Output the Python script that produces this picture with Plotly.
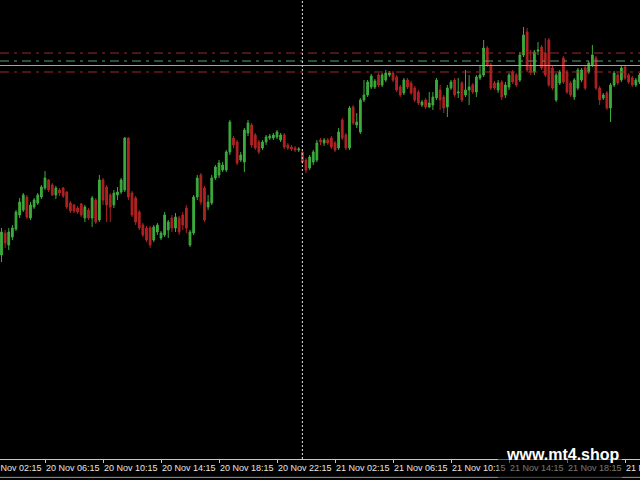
import pandas as pd
import plotly.graph_objects as go

# ---- data (15-minute bars, prices in points) ----
start_time = "2023-11-20 03:15"

open_ = [745, 767, 755, 763, 771, 785, 790, 803, 782, 793,
         797, 803, 812, 820, 815, 805, 810, 812, 808, 797,
         795, 792, 796, 782, 790, 782, 800, 780, 820, 813,
         805, 795, 805, 808, 810, 862, 807, 802, 788, 775,
         772, 772, 760, 768, 762, 765, 770, 782, 772, 782,
         785, 792, 755, 767, 803, 825, 812, 793, 797, 822,
         825, 830, 830, 848, 862, 858, 840, 838, 867, 875,
         865, 858, 852, 858, 862, 862, 863, 860, 865, 855,
         853, 852, 850, 848, 840, 832, 838, 840, 860, 857,
         860, 862, 857, 852, 880, 865, 852, 893, 875, 868,
         900, 905, 913, 913, 925, 915, 920, 925, 927, 923,
         913, 907, 920, 917, 912, 908, 895, 900, 893, 895,
         902, 910, 903, 893, 912, 920, 907, 917, 905, 910,
         915, 908, 922, 925, 952, 935, 917, 910, 918, 905,
         913, 928, 925, 920, 945, 968, 935, 928, 949, 953,
         947, 960, 932, 900, 917, 942, 928, 917, 903, 912,
         920, 932, 928, 935, 942, 912, 902, 907, 892, 915,
         925, 920, 933, 925, 922, 915, 918]

high = [772, 770, 772, 775, 790, 802, 807, 805, 798, 802,
        807, 815, 829, 821, 817, 814, 812, 813, 809, 799,
        796, 794, 797, 795, 792, 804, 802, 825, 822, 815,
        807, 810, 813, 822, 863, 863, 809, 804, 790, 777,
        774, 774, 775, 777, 769, 788, 780, 785, 787, 784,
        788, 795, 770, 805, 825, 827, 814, 805, 825, 835,
        840, 838, 850, 880, 864, 860, 848, 872, 880, 877,
        867, 860, 860, 865, 866, 867, 870, 867, 867, 857,
        855, 854, 853, 850, 842, 845, 850, 860, 862, 862,
        862, 864, 859, 872, 882, 867, 894, 895, 887, 902,
        920, 920, 926, 921, 927, 927, 930, 929, 929, 925,
        915, 922, 922, 919, 914, 910, 900, 902, 908, 908,
        922, 915, 905, 915, 920, 922, 922, 919, 930, 925,
        917, 925, 935, 960, 954, 937, 919, 920, 920, 918,
        927, 930, 927, 948, 973, 972, 950, 950, 958, 955,
        962, 962, 934, 927, 930, 944, 930, 919, 922, 932,
        932, 934, 939, 955, 944, 914, 907, 909, 917, 929,
        927, 934, 935, 927, 924, 922, 927]

low = [738, 752, 750, 760, 769, 782, 788, 781, 780, 791,
       795, 801, 810, 808, 804, 801, 804, 802, 791, 787,
       787, 786, 783, 778, 780, 773, 776, 778, 795, 778,
       778, 792, 800, 806, 808, 800, 783, 775, 770, 763,
       758, 752, 758, 765, 760, 763, 762, 768, 768, 765,
       770, 767, 753, 765, 800, 795, 778, 790, 795, 820,
       822, 828, 828, 845, 852, 835, 838, 828, 864, 852,
       850, 846, 850, 855, 860, 860, 861, 858, 851, 850,
       849, 848, 848, 836, 827, 830, 835, 838, 855, 854,
       855, 851, 848, 850, 860, 850, 850, 875, 872, 866,
       898, 903, 911, 911, 913, 913, 918, 923, 918, 908,
       903, 905, 911, 905, 898, 895, 893, 891, 892, 890,
       900, 890, 887, 883, 910, 903, 902, 898, 903, 895,
       906, 903, 920, 923, 933, 910, 910, 907, 900, 902,
       910, 916, 913, 918, 943, 928, 925, 925, 945, 930,
       923, 913, 910, 898, 915, 916, 906, 903, 900, 910,
       918, 910, 926, 933, 910, 895, 900, 890, 878, 913,
       915, 918, 920, 916, 913, 913, 916]

close = [768, 757, 768, 772, 788, 798, 805, 783, 795, 800,
         805, 813, 822, 810, 805, 812, 807, 804, 793, 789,
         789, 788, 785, 793, 782, 802, 778, 820, 800, 795,
         793, 807, 808, 820, 862, 803, 785, 778, 772, 765,
         760, 755, 773, 775, 767, 785, 778, 772, 783, 768,
         775, 772, 768, 803, 822, 798, 780, 798, 822, 833,
         837, 835, 848, 878, 855, 837, 845, 870, 877, 855,
         852, 848, 858, 863, 864, 865, 868, 865, 853, 852,
         851, 850, 851, 838, 830, 843, 848, 857, 858, 860,
         857, 853, 850, 868, 862, 852, 892, 877, 878, 900,
         905, 918, 924, 919, 915, 925, 927, 927, 920, 910,
         905, 920, 913, 907, 900, 897, 898, 893, 897, 903,
         920, 900, 892, 912, 918, 905, 908, 900, 910, 913,
         908, 923, 925, 952, 935, 912, 912, 917, 903, 915,
         925, 918, 915, 945, 965, 930, 928, 948, 950, 932,
         925, 915, 912, 925, 928, 918, 908, 905, 920, 930,
         930, 912, 937, 945, 912, 900, 905, 892, 915, 927,
         917, 932, 922, 918, 915, 920, 925]

# horizontal levels (points)
level_upper_red = 947
level_green = 939
level_gray = 934.5
level_lower_red = 928

# x-axis tick labels
tick_times = ["2023-11-20 06:15", "2023-11-20 10:15", "2023-11-20 14:15",
              "2023-11-20 18:15", "2023-11-20 22:15", "2023-11-21 02:15",
              "2023-11-21 06:15", "2023-11-21 10:15", "2023-11-21 14:15",
              "2023-11-21 18:15", "2023-11-21 22:15"]
tick_text = ["20 Nov 06:15", "20 Nov 10:15", "20 Nov 14:15", "20 Nov 18:15",
             "20 Nov 22:15", "21 Nov 02:15", "21 Nov 06:15", "21 Nov 10:15",
             "21 Nov 14:15", "21 Nov 18:15", "21 Nov 22:15"]
first_label = "20 Nov 02:15"
day_separator = "2023-11-21 00:00"
x_range = ["2023-11-20 03:08:48", "2023-11-21 23:17:04"]
y_range = [541, 1000]

times = pd.date_range(start=start_time, periods=len(open_), freq="15min")

label_font = dict(family="Liberation Sans", size=9, color="#e6e6e6")

fig = go.Figure()
fig.add_trace(go.Candlestick(
    x=times, open=open_, high=high, low=low, close=close,
    increasing=dict(line=dict(color="#3daa3d", width=1), fillcolor="#3daa3d"),
    decreasing=dict(line=dict(color="#b02222", width=1), fillcolor="#b02222"),
    whiskerwidth=0, showlegend=False, hoverinfo="skip",
))

dashdot = "9px,5px,3px,5px"
for lvl, col, dash in [(level_upper_red, "#9c2b2b", dashdot),
                       (level_green, "#5e9e6a", dashdot),
                       (level_gray, "#a4a4a4", "solid"),
                       (level_lower_red, "#9c2b2b", dashdot)]:
    fig.add_shape(type="line", xref="paper", x0=0, x1=1, yref="y", y0=lvl, y1=lvl,
                  line=dict(color=col, width=1, dash=dash), layer="above")

# day separator
fig.add_shape(type="line", xref="x", x0=day_separator, x1=day_separator,
              yref="paper", y0=0, y1=1,
              line=dict(color="#e8e8e8", width=1, dash="2px,2px"), layer="above")

# bottom border line
fig.add_shape(type="line", xref="paper", x0=0, x1=1, yref="paper", y0=-0.040, y1=-0.040,
              line=dict(color="#9a9a9a", width=1), layer="above")

# watermark backdrop + text
fig.add_shape(type="rect", xref="paper", x0=0.778, x1=0.972, yref="paper", y0=-0.042, y1=0.030,
              fillcolor="rgba(0,0,0,0.5)", line=dict(width=0), layer="above")
fig.add_annotation(text="www.mt4.shop", xref="paper", yref="paper", x=0.7875, y=0.009,
                   xanchor="left", yanchor="middle", showarrow=False,
                   font=dict(family="Liberation Sans", size=16, color="#ffffff", weight="bold"))

# partially visible first time label
fig.add_annotation(text=first_label, xref="paper", yref="paper", x=-0.0203, y=-0.0045,
                   xanchor="left", yanchor="top", showarrow=False, xshift=-1,
                   font=label_font)

fig.update_layout(
    width=640, height=480,
    margin=dict(l=0, r=0, t=0, b=21, pad=0),
    paper_bgcolor="#000000", plot_bgcolor="#000000",
    xaxis=dict(type="date", range=x_range, rangeslider=dict(visible=False),
               showgrid=False, zeroline=False, automargin=False,
               showline=True, linecolor="#c8c8c8", linewidth=1,
               ticks="outside", ticklen=3, tickcolor="#c8c8c8", tickangle=0,
               tickmode="array", tickvals=tick_times, ticktext=tick_text,
               ticklabelposition="outside right", ticklabeloverflow="allow",
               tickfont=label_font),
    yaxis=dict(range=y_range, visible=False, showgrid=False, fixedrange=True,
               automargin=False),
    showlegend=False,
)

fig.write_html("out.html", config={"displayModeBar": False},
               post_script="document.body.style.margin='0';document.body.style.background='#000';")
